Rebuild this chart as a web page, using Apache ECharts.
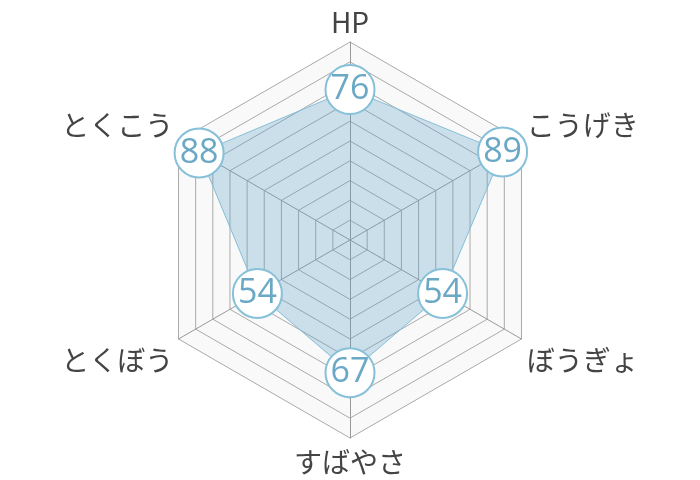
<!DOCTYPE html>
<html>
<head>
<meta charset="utf-8">
<script src="https://cdn.jsdelivr.net/npm/echarts@6/dist/echarts.min.js"></script>
<style>
  html, body { margin: 0; padding: 0; background: #fff; }
  #chart { width: 700px; height: 480px; }
</style>
</head>
<body>
<div id="chart"></div>
<script>
// 能力値 (レーダーは反時計回りに並ぶので、この順で HP から左回り)
var statNames = ['HP', 'とくこう', 'とくぼう', 'すばやさ', 'ぼうぎょ', 'こうげき'];
var statValues = [76, 88, 54, 67, 54, 89];
var statMax = 100;

// 名前の上下位置 (rich のスタイル名)
var namePlace = ['top', 'up', 'down', 'bottom', 'down', 'up'];

var chart = echarts.init(document.getElementById('chart'));

var indicators = [];
for (var i = 0; i < statNames.length; i++) {
    indicators.push({ name: statNames[i], max: statMax, min: 0 });
}

var nameFont = {
    color: '#444',
    fontSize: 28,
    fontFamily: '"Noto Sans CJK JP", sans-serif'
};

var option = {
    animation: false,
    backgroundColor: '#fff',
    radar: {
        center: [350, 240],
        radius: 198,
        startAngle: 90,
        splitNumber: 10,
        shape: 'polygon',
        indicator: indicators,
        axisName: {
            color: nameFont.color,
            fontSize: nameFont.fontSize,
            fontFamily: nameFont.fontFamily,
            formatter: function(name) {
                var ind = statNames.indexOf(name);
                return '{' + namePlace[ind] + '|' + name + '}';
            },
            rich: {
                top: {},
                up: { padding: [0, 0, 25, 0] },
                down: { padding: [36, 0, 0, 0] },
                bottom: { padding: [4, 0, 0, 0] }
            }
        },
        nameGap: 6,
        splitArea: {
            show: true,
            areaStyle: { color: ['#f9f9f9'] }
        },
        splitLine: {
            lineStyle: { color: '#aaa', width: 1 }
        },
        axisLine: {
            lineStyle: { color: '#999', width: 1 }
        }
    },
    series: [{
        type: 'radar',
        symbol: 'circle',
        symbolSize: 49,
        itemStyle: {
            color: '#fff',
            borderColor: '#86c0d9',
            borderWidth: 2
        },
        lineStyle: {
            color: '#8ec5dc',
            width: 1
        },
        areaStyle: {
            color: 'rgba(90,160,198,0.42)'
        },
        label: {
            show: true,
            position: 'inside',
            color: '#6aa8c6',
            fontSize: 34,
            fontFamily: '"Open Sans", sans-serif'
        },
        data: [{ value: statValues }]
    }]
};

// rich の各スタイルに文字設定を入れる
var rich = option.radar.axisName.rich;
for (var key in rich) {
    rich[key].color = nameFont.color;
    rich[key].fontSize = nameFont.fontSize;
    rich[key].fontFamily = nameFont.fontFamily;
}

chart.setOption(option);
</script>
</body>
</html>
